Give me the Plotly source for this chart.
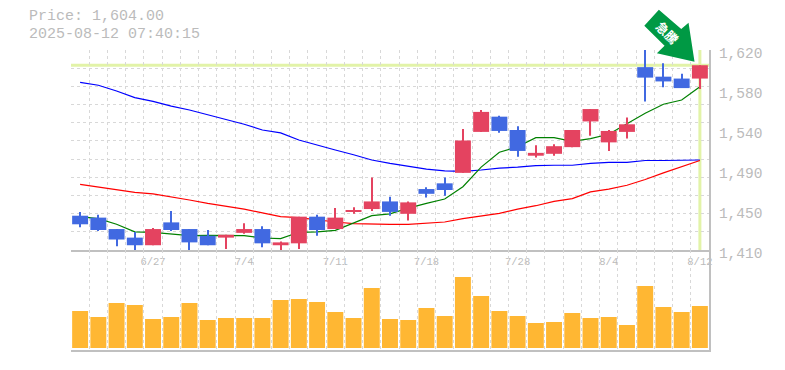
import plotly.graph_objects as go

W, H = 785, 370
L, R, T, B = 70.5, 75.5, 50, 20

dates = ["6/23","6/24","6/25","6/26","6/27","6/30","7/1","7/2","7/3","7/4","7/7","7/8","7/9","7/10","7/11",
         "7/14","7/15","7/16","7/17","7/18","7/22","7/23","7/24","7/25","7/28","7/29","7/30","7/31","8/1",
         "8/4","8/5","8/6","8/7","8/8","8/12"]
opens = [1446,1444,1432,1423,1415,1439,1432,1425,1423,1428,1432,1415,1417,1445,1432,1450,1453,1461,1448,
         1474,1480,1491,1534,1550,1536,1509,1511,1518,1545,1523,1534,1602,1592,1590,1590]
highs = [1450,1447,1432,1429,1433,1451,1432,1431,1426,1438,1435,1419,1445,1447,1454,1455,1486,1466,1461,
         1476,1486,1537,1557,1551,1540,1520,1521,1536,1558,1536,1549,1620,1606,1595,1604]
lows = [1434,1430,1414,1410,1415,1430,1410,1415,1411,1427,1413,1410,1411,1425,1432,1448,1451,1446,1441,
        1465,1467,1491,1534,1533,1508,1507,1509,1518,1530,1514,1527,1566,1581,1580,1579]
closes = [1437,1431,1421,1415,1432,1431,1418,1415,1426,1432,1417,1418,1445,1431,1444,1452,1461,1450,1460,
          1469,1473,1525,1555,1535,1514,1512,1519,1536,1558,1535,1542,1591,1587,1580,1604]
ma_short = [1445,1443,1437,1429,1428.6,1427,1425,1425.4,1425.4,1425,1422.6,1422,1428.6,1429,1430.7,1438.7,
            1446,1448,1454,1459,1463.5,1476.5,1497,1512.6,1518.5,1528,1528,1524,1527,1531.5,1542.3,1553.5,
            1563,1567.5,1581.5]
ma_mid = [1479,1476,1473,1470.6,1469,1466,1462.5,1459,1456,1453,1449,1445,1444,1441.5,1439.4,1437.6,1437,
          1437,1437,1438,1439.4,1443,1446,1448.5,1453,1456.5,1461,1464,1471,1474,1478,1484,1491,1497.5,1504]
ma_long = [1586,1583,1577,1570,1566,1561,1557,1552,1546.5,1542,1536,1533,1525.5,1520,1515,1510,1504.5,1501,
           1498,1495,1493,1492.6,1494,1496,1497,1498.5,1499,1499,1501,1502,1502,1504,1504,1504,1504.5]
volumes = [37,31,45,43,29,31,45,28,30,30,30,48,49,46,36,30,60,29,28,40,32,71,52,37,32,25,26,35,30,31,23,62,41,36,42]

price_ticks = [1410,1452,1494,1536,1578,1620]
price_labels = ["1,410","1,450","1,490","1,540","1,580","1,620"]
date_ticks = ["6/27","7/4","7/11","7/18","7/28","8/4","8/12"]
last_price = 1604
header = ["Price: 1,604.00","2025-08-12 07:40:15"]
arrow_label = "急騰"

GRID = "#d8d8d8"
AXIS = "#c0c0c0"
TEXT = "#bbbbbb"
BAND = "#e2f3a8"
RED = "#e44360"
BLUE = "#4169e1"
MONO = "Liberation Mono, monospace"

idx = list(range(len(dates)))
date_pos = [dates.index(d) for d in date_ticks]
xbounds = [i - 0.5 for i in range(len(dates) + 1)]
ybounds = [1410 + 210 * k / 11 for k in range(12)]
colors = [RED if c >= o else BLUE for o, c in zip(opens, closes)]

fig = go.Figure()
for vals, col in [(ma_long, "#0000ff"), (ma_mid, "#ff0000"), (ma_short, "#008000")]:
    fig.add_trace(go.Scatter(x=idx, y=vals, mode="lines", line=dict(color=col, width=1.2), xaxis="x", yaxis="y",
                             hoverinfo="skip", showlegend=False))
# wicks, then bodies, on an overlaid axis so the candles sit on top of the average lines
fig.add_trace(go.Bar(x=idx, base=lows, y=[h - l for h, l in zip(highs, lows)], width=0.06,
                     marker=dict(color=colors, line=dict(width=0)), xaxis="x", yaxis="y3", showlegend=False))
fig.add_trace(go.Bar(x=idx, base=[min(o, c) for o, c in zip(opens, closes)],
                     y=[abs(o - c) for o, c in zip(opens, closes)], width=0.875,
                     marker=dict(color=colors, line=dict(width=0)), xaxis="x", yaxis="y3", showlegend=False))
fig.add_trace(go.Bar(x=idx, y=volumes, marker=dict(color="#ffb733", line=dict(width=0)), width=0.875,
                     xaxis="x2", yaxis="y2", showlegend=False))

minorx = dict(tickmode="array", tickvals=xbounds, showgrid=True, gridcolor=GRID, griddash="3px,3px", gridwidth=1, ticklen=0)
PH = H - T - B
xr = [-0.5, len(dates) - 0.5]
def px(v): return (v - L) / (W - L - R)
def py(v): return 1 - (v - T) / PH

arrow_pts = [(644.7,25.7),(659.3,9.7),(681.7,29),(689,22.7),(695,61.7),(657.3,53.3),(665,45.7)]
arrow_path = "M " + " L ".join(f"{px(a):.5f},{py(b):.5f}" for a, b in arrow_pts) + " Z"

fig.update_layout(
    width=W, height=H, margin=dict(l=L, r=R, t=T, b=B, autoexpand=False), paper_bgcolor="white", plot_bgcolor="white",
    barmode="overlay", showlegend=False,
    font=dict(family=MONO, color=TEXT),
    xaxis=dict(domain=[0,1], anchor="y", range=xr, tickmode="array", tickvals=date_pos, ticktext=date_ticks,
               showgrid=False, minor=minorx, ticks="", zeroline=False, automargin=False,
               showline=True, linecolor=AXIS, linewidth=2, tickfont=dict(family=MONO, size=10.5, color=TEXT)),
    xaxis2=dict(domain=[0,1], anchor="y2", range=xr, matches="x", showticklabels=False, ticks="", showgrid=False,
                minor=minorx, zeroline=False, showline=True, linecolor=AXIS, linewidth=2, automargin=False),
    yaxis=dict(domain=[1/3,1], anchor="x", side="right", range=[1410,1620], tickmode="array", tickvals=price_ticks,
               ticktext=price_labels, showgrid=False, ticks="", zeroline=False, showline=True, linecolor=AXIS,
               linewidth=2, ticklabelstandoff=5, ticklabelshift=3, tickfont=dict(family=MONO, size=14.5, color=TEXT),
               minor=dict(tickmode="array", tickvals=ybounds, showgrid=True, gridcolor=GRID, griddash="3px,3px", gridwidth=1, ticklen=0)),
    yaxis2=dict(domain=[0,1/3], anchor="x2", side="right", range=[-2,98], showticklabels=False, ticks="", showgrid=False,
                zeroline=False, showline=True, linecolor=AXIS, linewidth=2),
    yaxis3=dict(domain=[1/3,1], anchor="x", overlaying="y", side="right", range=[1410,1620], showticklabels=False,
                ticks="", showgrid=False, zeroline=False, showline=False),
    shapes=[
        dict(type="line", xref="x", yref="y", x0=xr[0], x1=xr[1], y0=last_price, y1=last_price,
             line=dict(color=BAND, width=3), layer="below"),
        dict(type="line", xref="x", yref="y", x0=idx[-1], x1=idx[-1], y0=1410, y1=1620,
             line=dict(color=BAND, width=3), layer="below"),
        dict(type="path", xref="paper", yref="paper", path=arrow_path, fillcolor="#009944", line=dict(width=0), layer="above"),
    ],
    annotations=[
        dict(text=header[0], xref="paper", yref="paper", x=px(26.5), y=py(17), xanchor="left", yanchor="middle",
             showarrow=False, font=dict(family=MONO, size=15, color=TEXT)),
        dict(text=header[1], xref="paper", yref="paper", x=px(26.5), y=py(34.5), xanchor="left", yanchor="middle",
             showarrow=False, font=dict(family=MONO, size=15, color=TEXT)),
        dict(text=arrow_label, xref="paper", yref="paper", x=px(668), y=py(32.5), xanchor="center", yanchor="middle",
             textangle=45, showarrow=False, font=dict(family="Noto Sans CJK JP", size=12.5, color="white", weight="bold")),
    ],
)
fig.write_html("out.html", config={"displayModeBar": False},
               post_script="document.body.style.margin='0';document.documentElement.style.overflow='hidden';")
